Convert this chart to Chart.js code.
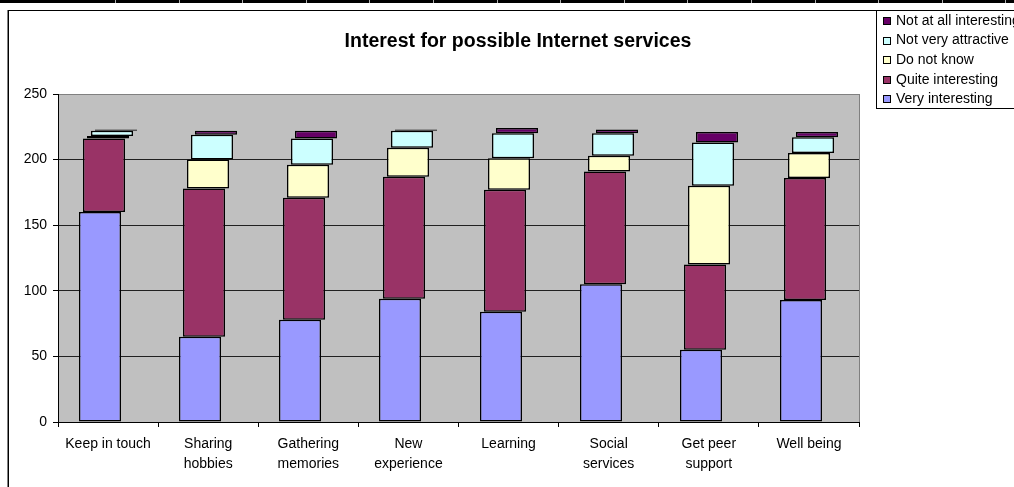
<!DOCTYPE html>
<html>
<head>
<meta charset="utf-8">
<title>Interest for possible Internet services</title>
<script src="https://cdn.jsdelivr.net/npm/chart.js@4.4.1/dist/chart.umd.min.js"></script>
<style>
  html, body { margin: 0; padding: 0; background: #fff; overflow: hidden; width: 1014px; height: 487px; }
  #sheet { position: absolute; left: 0; top: 0; width: 1014px; height: 3px; background: #000; }
  .cell { position: absolute; top: 0; width: 1px; height: 3px; background: #b0b0b0; }
  #frame { position: absolute; left: 8px; top: 10px; width: 1100px; height: 600px;
           border-left: 1px solid #000; border-top: 1px solid #000; box-shadow: -1px 0 0 #808080; }
  #wrap { position: absolute; left: 0; top: 0; width: 1044px; height: 487px; }
</style>
</head>
<body>
<div id="sheet"></div>
<div id="frame"></div>
<div id="wrap"><canvas id="chart" width="1044" height="487"></canvas></div>
<script>
// Survey answers per proposed service (number of respondents)
const categories = [
  'Keep in touch', ['Sharing', 'hobbies'], ['Gathering', 'memories'], ['New', 'experience'],
  'Learning', ['Social', 'services'], ['Get peer', 'support'], 'Well being'
];
const veryInteresting     = [160, 65, 78, 94, 84, 105, 55, 93];
const quiteInteresting    = [56, 113, 93, 93, 93, 86, 65, 93];
const doNotKnow           = [2, 22, 25, 22, 24, 12, 60, 19];
const notVeryAttractive   = [4, 19, 20, 13, 19, 17, 33, 12];
const notAtAllInteresting = [1, 3, 6, 1, 4, 3, 8, 4];
const yTicks = [0, 50, 100, 150, 200, 250];

const FONT = '"Liberation Sans", Arial, sans-serif';

// spreadsheet row separators along the top edge
(function () {
  const sheet = document.getElementById('sheet');
  for (let x = 115; x < 1014; x += 63.6) {
    const d = document.createElement('div');
    d.className = 'cell';
    d.style.left = Math.round(x) + 'px';
    sheet.appendChild(d);
  }
})();

// each series is drawn slightly to the right of the one below it
const STEP = 4.2;
const stagger = {
  id: 'stagger',
  afterDatasetsUpdate(chart) {
    const n = chart.data.datasets.length;
    chart.data.datasets.forEach((ds, i) => {
      const shift = Math.round((i - (n - 1) / 2) * STEP);
      chart.getDatasetMeta(i).data.forEach(el => { el.x = Math.round(el.x) + shift; });
    });
  }
};

// grey plot area with a thin grey border
const plotArea = {
  id: 'plotArea',
  beforeDraw(chart) {
    const { ctx, chartArea: a } = chart;
    ctx.save();
    ctx.fillStyle = '#C0C0C0';
    ctx.fillRect(a.left, a.top, a.right - a.left, a.bottom - a.top);
    ctx.strokeStyle = '#808080';
    ctx.lineWidth = 1;
    ctx.strokeRect(a.left + 0.5, a.top + 0.5, a.right - a.left, a.bottom - a.top);
    ctx.restore();
  }
};

// right-hand box that holds the legend (reverse series order, boxed)
const sideLegend = {
  id: 'sideLegend',
  beforeInit(chart) {
    const box = {
      position: 'right', weight: 0, fullSize: false, options: {},
      width: 0, height: 0, left: 0, top: 0, right: 0, bottom: 0,
      isHorizontal() { return false; },
      update(maxWidth, maxHeight) {
        this.width = 169; this.height = maxHeight;
        return this.width;
      },
      draw() {
        const ctx = chart.ctx;
        const bx = this.left + 17.5, by = 10.5;
        ctx.save();
        ctx.fillStyle = '#fff';
        ctx.fillRect(bx, by, 200, 98);
        ctx.strokeStyle = '#000';
        ctx.lineWidth = 1;
        ctx.strokeRect(bx, by, 200, 98);
        const items = chart.data.datasets.map(d => ({ label: d.label, color: d.backgroundColor })).reverse();
        ctx.font = '14px ' + FONT;
        ctx.textBaseline = 'middle';
        items.forEach((it, k) => {
          const y = 21 + k * 19.6;
          ctx.fillStyle = it.color;
          ctx.fillRect(bx + 7, Math.round(y) - 3.5, 7, 7);
          ctx.strokeRect(bx + 7, Math.round(y) - 3.5, 7, 7);
          ctx.fillStyle = '#000';
          ctx.fillText(it.label, bx + 19.5, y);
        });
        ctx.restore();
      }
    };
    Chart.layouts.addBox(chart, box);
  }
};

const series = [
  { label: 'Very interesting',       data: veryInteresting,     color: '#9999FF' },
  { label: 'Quite interesting',      data: quiteInteresting,    color: '#993366' },
  { label: 'Do not know',            data: doNotKnow,           color: '#FFFFCC' },
  { label: 'Not very attractive',    data: notVeryAttractive,   color: '#CCFFFF' },
  { label: 'Not at all interesting', data: notAtAllInteresting, color: '#660066' }
];

new Chart(document.getElementById('chart'), {
  type: 'bar',
  data: {
    labels: categories,
    datasets: series.map(s => ({
      label: s.label,
      data: s.data,
      backgroundColor: s.color,
      borderColor: '#000',
      borderWidth: 1.5,
      borderSkipped: false,
      barPercentage: 0.42,
      categoryPercentage: 1
    }))
  },
  options: {
    responsive: false,
    animation: false,
    devicePixelRatio: 1,
    layout: { padding: { left: 8, right: 16, top: 0, bottom: 0 } },
    plugins: {
      legend: { display: false },
      tooltip: { enabled: false },
      title: {
        display: true,
        text: 'Interest for possible Internet services',
        color: '#000',
        font: { family: FONT, size: 19.5, weight: 'bold', lineHeight: 1.2 },
        padding: { top: 30, bottom: 40.6 }
      }
    },
    scales: {
      x: {
        stacked: true,
        afterFit(scale) { scale.height = 65; },
        border: { color: '#000', width: 1 },
        grid: { offset: true, drawOnChartArea: false, drawTicks: true, tickLength: 5, tickColor: '#000' },
        ticks: { color: '#000', font: { family: FONT, size: 14, lineHeight: 1.45 }, padding: 7, maxRotation: 0, autoSkip: false }
      },
      y: {
        stacked: true,
        min: yTicks[0],
        max: yTicks[yTicks.length - 1],
        afterFit(scale) { scale.width = 50; },
        afterBuildTicks(scale) { scale.ticks = yTicks.map(v => ({ value: v })); },
        border: { color: '#000', width: 1 },
        grid: {
          color: ctx => (ctx.tick && ctx.tick.value === yTicks[yTicks.length - 1]) ? 'rgba(0,0,0,0)' : '#202020',
          tickColor: '#000', tickLength: 5, drawTicks: true
        },
        ticks: { color: '#000', font: { family: FONT, size: 14 }, padding: 6 }
      }
    }
  },
  plugins: [plotArea, stagger, sideLegend]
});
</script>
</body>
</html>
